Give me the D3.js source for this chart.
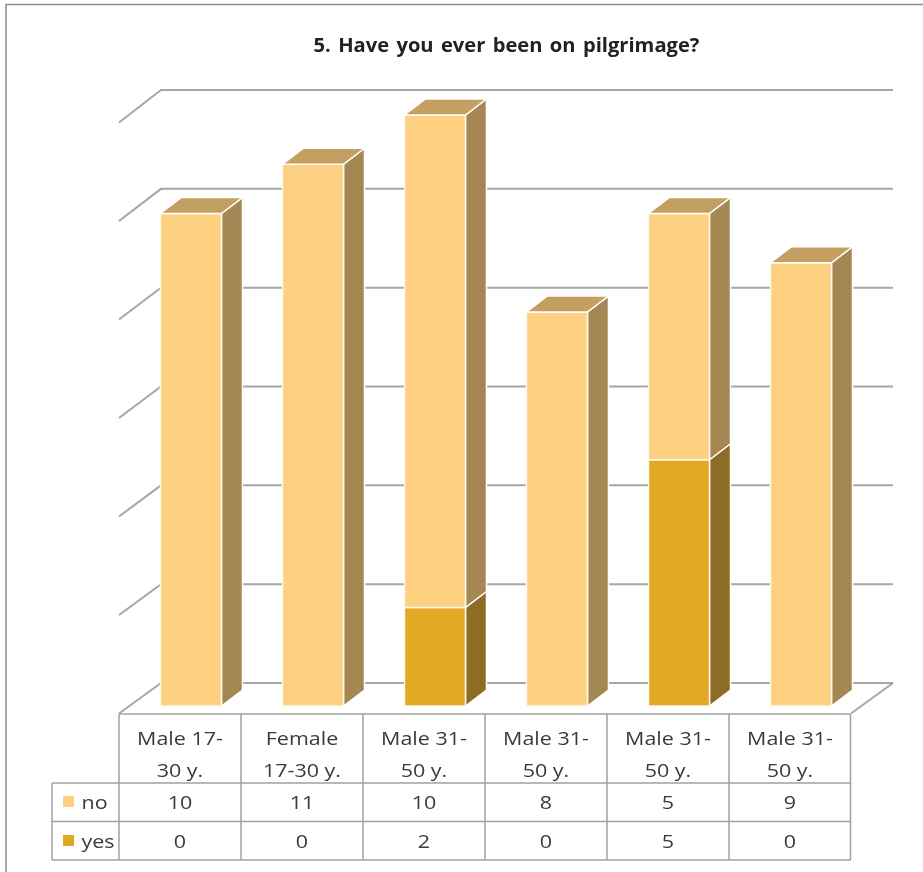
<!DOCTYPE html>
<html><head><meta charset="utf-8">
<script src="https://cdn.jsdelivr.net/npm/d3@7/dist/d3.min.js"></script>
<style>html,body{margin:0;padding:0;background:#fff}svg{display:block}text{font-family:"Open Sans","Noto Sans",sans-serif;fill:#3a3a3a}</style>
</head><body><svg id="c" width="923" height="872"></svg>
<script>
const chartTitle = "5. Have you ever been on pilgrimage?";
const categories = [["Male 17-","30 y."],["Female","17-30 y."],["Male 31-","50 y."],["Male 31-","50 y."],["Male 31-","50 y."],["Male 31-","50 y."]];
const yesValues = [0,0,2,0,5,0];
const noValues = [10,11,10,8,5,9];
const yTicks = [0,2,4,6,8,10,12];

const svg = d3.select("#c");
const root = svg.append("g").style("filter","blur(0.5px)");
const idx = d3.range(categories.length);
const x = d3.scaleBand().domain(idx).range([119,851]).paddingInner(0.5).paddingOuter(0.25).align(0.68);
const colW = (851-119)/categories.length;
const y = d3.scaleLinear().domain([0,12]).range([706,115]);
const gridFront = d3.scaleLinear().domain([0,12]).range([713.5,122.5]);
const gridBack = d3.scaleLinear().domain([0,12]).range([683,90]);
const dx = 21, dy = -16;
const wx = 42;
const line = d3.line();
const gridC = "#a6a6a6";

function fit(sel,k){
  const n=sel.node(); const w=n.getComputedTextLength();
  sel.attr("textLength",w*k).attr("lengthAdjust","spacingAndGlyphs");
  return sel;
}

// frame
root.append("path").attr("d","M6,872V4.5H923").attr("fill","none").attr("stroke","#8c8c8c").attr("stroke-width",1.5);

// title
fit(root.append("text").attr("x",506.5).attr("y",52).attr("text-anchor","middle")
  .attr("font-size",19).attr("font-weight",700).style("word-spacing","2px").style("fill","#222").text(chartTitle),1.06);

// gridlines
const grid = root.append("g").attr("fill","none").attr("stroke",gridC).attr("stroke-width",2);
grid.selectAll("path.g").data(yTicks).join("path").attr("class","g")
  .attr("d",v => line([[119,gridFront(v)],[119+wx,gridBack(v)],[851+wx,gridBack(v)]]));
grid.append("path").attr("d",line([[851,gridFront(0)],[851+wx,gridBack(0)]]));

// bars
function box(g,i,v0,v1,front,top,side){
  const x0=x(i), w=x.bandwidth(), yb=y(v0), yt=y(v1);
  g.append("path").attr("d",line([[x0+w,yb],[x0+w+dx,yb+dy],[x0+w+dx,yt+dy],[x0+w,yt]])+"Z").attr("fill",side).attr("stroke","#fff").attr("stroke-width",1.5);
  g.append("rect").attr("x",x0).attr("y",yt).attr("width",w).attr("height",yb-yt).attr("fill",front).attr("stroke","#fff8ec").attr("stroke-width",1.5);
  if(top) g.append("path").attr("d",line([[x0,yt],[x0+dx,yt+dy],[x0+w+dx,yt+dy],[x0+w,yt]])+"Z").attr("fill",top).attr("stroke","#fff").attr("stroke-width",1.5);
}
const bars = root.append("g");
idx.forEach(i=>{
  const g=bars.append("g");
  const a=yesValues[i], b=a+noValues[i];
  if(a>0) box(g,i,0,a,"#e0a823",null,"#8e6c26");
  box(g,i,a,b,"#fed082","#c39f62","#a48753");
});

// data table
const tT=714, tR1=783, tR2=821.5, tB=860, tL=52;
const t = root.append("g");
const tl = t.append("g").attr("fill","none").attr("stroke","#a0a0a0").attr("stroke-width",1.5);
const colX = idx.map(i=>119+colW*i).concat([850.5]);
tl.append("path").attr("d",line([[119,tT],[850.5,tT]]));
tl.selectAll("path.r").data([tR1,tR2,tB]).join("path").attr("class","r").attr("d",r=>line([[tL,r],[850.5,r]]));
tl.append("path").attr("d",line([[tL,tR1],[tL,tB]]));
tl.selectAll("path.c").data(colX).join("path").attr("class","c").attr("d",c=>line([[c,tT],[c,tB]]));
const fs=19, k=1.13;
const label=(px,py,s,anchor)=>fit(t.append("text").attr("x",px).attr("y",py).attr("text-anchor",anchor||"middle").attr("font-size",fs).text(s),k);
idx.forEach(i=>{
  const cx=colX[i]+colW/2;
  categories[i].forEach((s,j)=>label(cx,745+j*32,s));
  label(cx,809,noValues[i]);
  label(cx,848,yesValues[i]);
});
[["no","#fed082",809,796],["yes","#e0a823",848,835]].forEach(d=>{
  t.append("rect").attr("x",63).attr("y",d[3]).attr("width",11).attr("height",11).attr("fill",d[1]);
  label(81.5,d[2],d[0],"start");
});
</script></body></html>
